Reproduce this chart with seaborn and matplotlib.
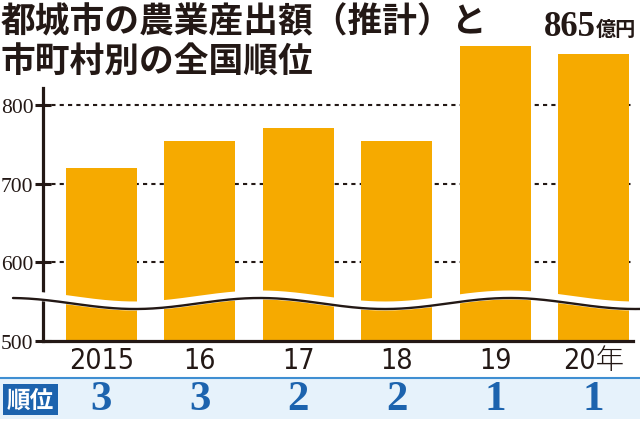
import numpy as np
import pandas as pd
import matplotlib
matplotlib.use("Agg")
import matplotlib.pyplot as plt
import matplotlib.transforms as mtransforms
import seaborn as sns

# ---- data ----
years = ["2015", "16", "17", "18", "19", "20年"]
values = [720, 754, 771, 754, 875, 865]
ranks = [3, 3, 2, 2, 1, 1]
yticks = [500, 600, 700, 800]
title1 = "都城市の農業産出額（推計）と"
title2 = "市町村別の全国順位"
unit = "億円"
rank_label = "順位"

sns.set_style("white")
plt.rcParams["font.family"] = ["Noto Sans CJK JP", "DejaVu Sans"]

INK = "#231815"
BAR = "#F6AA00"
BLUE = "#1c63ae"

W, H = 640, 427
fig = plt.figure(figsize=(6.4, 4.27), dpi=100)

def fx(px):
    return px / W
def fy(py):
    return 1 - py / H

ylo, yhi = 500, 890
ppu = 0.7867  # px per data unit
ax_bottom_px = 342
ax_top_px = ax_bottom_px - (yhi - ylo) * ppu
ax = fig.add_axes([fx(43), fy(ax_bottom_px), fx(633) - fx(43), (ax_bottom_px - ax_top_px) / H])

df = pd.DataFrame({"year": years, "value": values})
sns.barplot(data=df, x="year", y="value", color=BAR, saturation=1, width=0.72,
            ax=ax, zorder=2, edgecolor="none")

x0 = (43 - 101.5) / 98.4
x1 = (633 - 101.5) / 98.4
ax.set_xlim(x0, x1)
ax.set_ylim(ylo, yhi)
ax.set_xlabel("")
ax.set_ylabel("")

for s in ["top", "right"]:
    ax.spines[s].set_visible(False)
for s in ["left", "bottom"]:
    ax.spines[s].set_linewidth(2.3)
    ax.spines[s].set_color(INK)
    ax.spines[s].set_zorder(4)
ax.spines["left"].set_bounds(ylo, 822)

ax.set_yticks(yticks)
ax.set_yticklabels([str(t) for t in yticks], family=["Liberation Serif"], fontsize=15.5, color=INK)
ax.tick_params(axis="y", direction="inout", length=11, width=2.2, color=INK, pad=1.5, left=True)
ax.tick_params(axis="x", direction="in", length=5, width=1.6, color=INK, pad=3.5, bottom=True)
ax.set_xticks(range(len(years)))
ax.set_xticklabels(years, family=["DejaVu Sans", "Noto Sans CJK JP"], fontstretch="condensed",
                   fontweight="light", fontsize=20.5, color=INK)

# dashed gridlines
for t in yticks[1:]:
    ax.axhline(t, color=INK, lw=1.5, ls=(0, (2, 2)), zorder=1)

# decorative axis break (wavy)
def dx(px):
    return (px - 101.5) / 98.4
def dyv(py):
    return ylo + (ax_bottom_px - py) / ppu
pxs = np.linspace(13, 640, 400)
pys = 304.5 - 5.5 * np.cos(2 * np.pi * (pxs - 10) / 250)
ax.plot(dx(pxs), dyv(pys - 3), color="white", lw=6.5, zorder=5, clip_on=False, solid_capstyle="butt")
ax.plot(dx(pxs), dyv(pys), color=INK, lw=1.7, zorder=6, clip_on=False)

# value label on last bar
ax.annotate(f"{values[-1]}", xy=(5, values[-1]), xytext=(1.5, 13.5), textcoords="offset points",
            ha="right", va="baseline", family=["Liberation Serif"], fontweight="bold",
            fontsize=25, color=INK, annotation_clip=False)
ax.annotate(unit, xy=(5, values[-1]), xytext=(2, 13.5), textcoords="offset points",
            ha="left", va="baseline", fontsize=14.5, fontweight="bold", color=INK,
            annotation_clip=False)

# title
fig.text(fx(1), fy(22), title1, ha="left", va="center", fontsize=25, fontweight="bold", color=INK)
fig.text(fx(1), fy(62), title2, ha="left", va="center", fontsize=25, fontweight="bold", color=INK)

# rank table
fig.add_artist(plt.Rectangle((0, fy(420)), 1, (420 - 380) / H, transform=fig.transFigure,
                             facecolor="#e6f2fb", edgecolor="none", zorder=0))
fig.add_artist(plt.Line2D([0, 1], [fy(379), fy(379)], transform=fig.transFigure,
                          color="#3f8fd2", lw=1.5))
fig.add_artist(plt.Rectangle((fx(3), fy(416)), (58 - 3) / W, (416 - 385) / H, transform=fig.transFigure,
                             facecolor=BLUE, edgecolor="none", zorder=1))
fig.text(fx(30.5), fy(400.5), rank_label, ha="center", va="center", fontsize=17,
         fontweight="bold", color="white", zorder=2)
trans = mtransforms.blended_transform_factory(ax.transData, fig.transFigure)
for i, r in enumerate(ranks):
    ax.text(i, fy(400), str(r), transform=trans, ha="center", va="center",
            family=["Liberation Serif"], fontweight="bold", fontsize=31, color=BLUE, clip_on=False)

fig.savefig("out.png", dpi=100)
